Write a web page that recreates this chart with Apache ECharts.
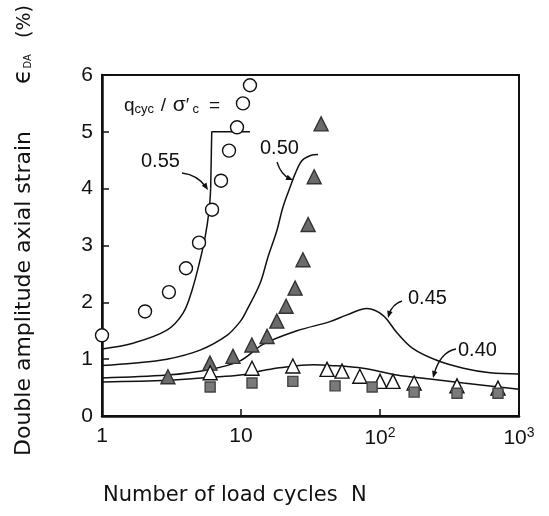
<!DOCTYPE html>
<html><head><meta charset="utf-8">
<script src="https://cdn.jsdelivr.net/npm/echarts@6/dist/echarts.min.js"></script>
<style>html,body{margin:0;padding:0;background:#fff}#c{width:549px;height:516px}</style>
</head><body><div id="c"></div>
<script>
// ---- data (N, strain %) ----
const xTicks = [1, 10, 100, 1000];
const yTicks = [0, 1, 2, 3, 4, 5, 6];
const curveLabels = ['0.55', '0.50', '0.45', '0.40'];
const circles055 = [[1,1.42],[2.04,1.84],[3.03,2.18],[4.02,2.6],[4.99,3.05],[6.19,3.63],[7.18,4.14],[8.2,4.67],[9.36,5.08],[10.33,5.5],[11.6,5.82]];
const triFilled050 = [[2.98,0.69],[5.98,0.93],[8.76,1.05],[11.97,1.25],[15.4,1.4],[18.1,1.67],[21.1,1.93],[24.5,2.25],[27.9,2.75],[30.4,3.37],[33.6,4.21],[37.7,5.14]];
const triOpen = [[6,0.76],[12,0.84],[23.6,0.88],[41.6,0.82],[53.3,0.79],[71.6,0.7],[100,0.61],[124,0.61],[176,0.58],[358,0.53],[706,0.49]];
const squares = [[6,0.51],[12,0.58],[23.6,0.61],[47.5,0.53],[87.8,0.51],[176,0.42],[358,0.4],[706,0.4]];
const curve055 = [[1,1.18],[1.67,1.28],[2.93,1.51],[3.83,1.81],[4.44,2.21],[5.07,2.74],[5.51,3.14],[5.89,3.61],[6.05,4.0]];
const step055 = [[6.05,4.0],[6.16,5.0],[11.6,5.0]];
const curve050 = [[1,0.89],[1.67,0.93],[2.93,1.0],[5.07,1.16],[7.93,1.42],[9.85,1.66],[11.0,1.86],[13.7,2.33],[15.6,2.79],[18.1,3.26],[20.0,3.67],[22.5,4.02],[24.5,4.26],[27.4,4.49],[31.3,4.58],[35.8,4.6]];
const curve045 = [[1,0.67],[2.93,0.72],[6,0.82],[9.85,0.97],[14.4,1.26],[25.3,1.5],[43.6,1.66],[57.9,1.78],[80.6,1.89],[105,1.77],[132,1.47],[172,1.19],[256,0.98],[398,0.84],[619,0.76],[1000,0.74]];
const curve040 = [[1,0.6],[3,0.63],[6,0.68],[9.85,0.72],[14.4,0.8],[19,0.85],[33,0.9],[43.6,0.89],[75.5,0.84],[132,0.72],[229,0.65],[398,0.58],[1000,0.47]];

const FONT = 'Liberation Sans, Arial, sans-serif';
const TFONT = 'DejaVu Sans, sans-serif';
const chart = echarts.init(document.getElementById('c'), null, {renderer: 'canvas'});

function lineSeries(data, smooth) {
  return {type: 'line', data: data, smooth: smooth ? 0.35 : false, showSymbol: false, symbol: 'none',
    lineStyle: {color: '#111', width: 1.5}, z: 2, silent: true};
}
function scatter(data, symbol, size, fill, border) {
  return {type: 'scatter', data: data, symbol: symbol, symbolSize: size,
    itemStyle: {color: fill, borderColor: border, borderWidth: 1.4, opacity: 1}, z: 5, silent: true};
}

function arrow(x1, y1, cx, cy, x2, y2) {
  const dx = x2 - cx, dy = y2 - cy, L = Math.hypot(dx, dy);
  const ux = dx / L, uy = dy / L, px = -uy, py = ux;
  const a = 7, w = 2.8;
  return [
    {type: 'bezierCurve', shape: {x1: x1, y1: y1, cpx1: cx, cpy1: cy, x2: x2 - ux * 3, y2: y2 - uy * 3},
      style: {stroke: '#111', lineWidth: 1.4, fill: null}},
    {type: 'polygon', shape: {points: [[x2, y2], [x2 - ux * a + px * w, y2 - uy * a + py * w], [x2 - ux * a - px * w, y2 - uy * a - py * w]]},
      style: {fill: '#111'}}
  ];
}

const labelStyle = {font: '20px ' + FONT, fill: '#111'};
const R90 = Math.PI / 2;
const graphics = [
  {type: 'text', left: 124, top: 95, style: {
    text: '{q|q}{s|cyc}  {q|/}  {g|σ}{p|′} {s|c}   {q|=}',
    rich: {q: {fontSize: 19, fontFamily: FONT, fill: '#111'}, g: {fontSize: 21, fontFamily: FONT, fill: '#111'},
      s: {fontSize: 13, fontFamily: FONT, fill: '#111', padding: [7, 0, 0, 0]},
      p: {fontSize: 19, fontFamily: FONT, fill: '#111'}}}},
  {type: 'text', x: 141, y: 151, style: Object.assign({text: curveLabels[0]}, labelStyle)},
  {type: 'text', x: 260, y: 138, style: Object.assign({text: curveLabels[1]}, labelStyle)},
  {type: 'text', x: 408, y: 288, style: Object.assign({text: curveLabels[2]}, labelStyle)},
  {type: 'text', x: 458, y: 340, style: Object.assign({text: curveLabels[3]}, labelStyle)},
  ...arrow(182, 173, 198, 175, 208, 190),
  ...arrow(277, 162, 281, 175, 293, 180),
  ...arrow(402, 301, 392, 304, 388, 318),
  ...arrow(456, 349, 440, 352, 433, 378),
  {type: 'text', left: 103, top: 485, style: {text: 'Number of load cycles  N', font: '21px ' + TFONT, fill: '#111'}},
  {type: 'text', x: 24, y: 456, rotation: R90, style: {text: 'Double amplitude axial strain', font: '22px ' + TFONT, fill: '#111', align: 'left', verticalAlign: 'middle'}},
  {type: 'text', x: 24, y: 84, rotation: R90, style: {text: '{e|ϵ}{s|DA}', align: 'left', verticalAlign: 'middle',
    rich: {e: {fontSize: 24, fontFamily: TFONT, fill: '#111'}, s: {fontSize: 10, fontFamily: FONT, fill: '#111', padding: [8, 0, 0, 1]}}}},
  {type: 'text', x: 25, y: 38, rotation: R90, style: {text: '(%)', font: '19px ' + TFONT, fill: '#111', align: 'left', verticalAlign: 'middle'}}
];

chart.setOption({
  animation: false,
  grid: {left: 102, right: 30, top: 75, bottom: 100, show: true, borderColor: '#111', borderWidth: 2},
  xAxis: {
    type: 'log', logBase: 10, min: xTicks[0], max: xTicks[xTicks.length - 1],
    axisLine: {show: true, lineStyle: {color: '#111', width: 2.5}},
    axisTick: {show: true, inside: true, length: 7, lineStyle: {color: '#111', width: 1.5}},
    minorTick: {show: false}, splitLine: {show: false},
    axisLabel: {margin: 10, fontSize: 21, fontFamily: FONT, color: '#111',
      formatter: function (v) {
        if (v === 1) return '1';
        if (v === 10) return '10';
        return '10{sup|' + Math.round(Math.log10(v)) + '}';
      },
      rich: {sup: {fontSize: 14, fontFamily: FONT, color: '#111', padding: [0, 0, 10, 0]}}}
  },
  yAxis: {
    type: 'value', min: yTicks[0], max: yTicks[yTicks.length - 1], interval: 1,
    axisLine: {show: true, lineStyle: {color: '#111', width: 2.5}},
    axisTick: {show: true, inside: true, length: 7, lineStyle: {color: '#111', width: 1.5}},
    splitLine: {show: false},
    axisLabel: {margin: 9, fontSize: 21, fontFamily: FONT, color: '#111'}
  },
  series: [
    lineSeries(curve055, true),
    lineSeries(step055, false),
    lineSeries(curve050, true),
    lineSeries(curve045, true),
    lineSeries(curve040, true),
    scatter(circles055, 'circle', 13, '#fff', '#111'),
    scatter(triFilled050, 'triangle', 14, '#6b6b6b', '#333'),
    scatter(triOpen, 'triangle', 14, '#fff', '#111'),
    scatter(squares, 'rect', 10, '#7a7a7a', '#444')
  ],
  graphic: graphics
});
</script>
</body></html>
